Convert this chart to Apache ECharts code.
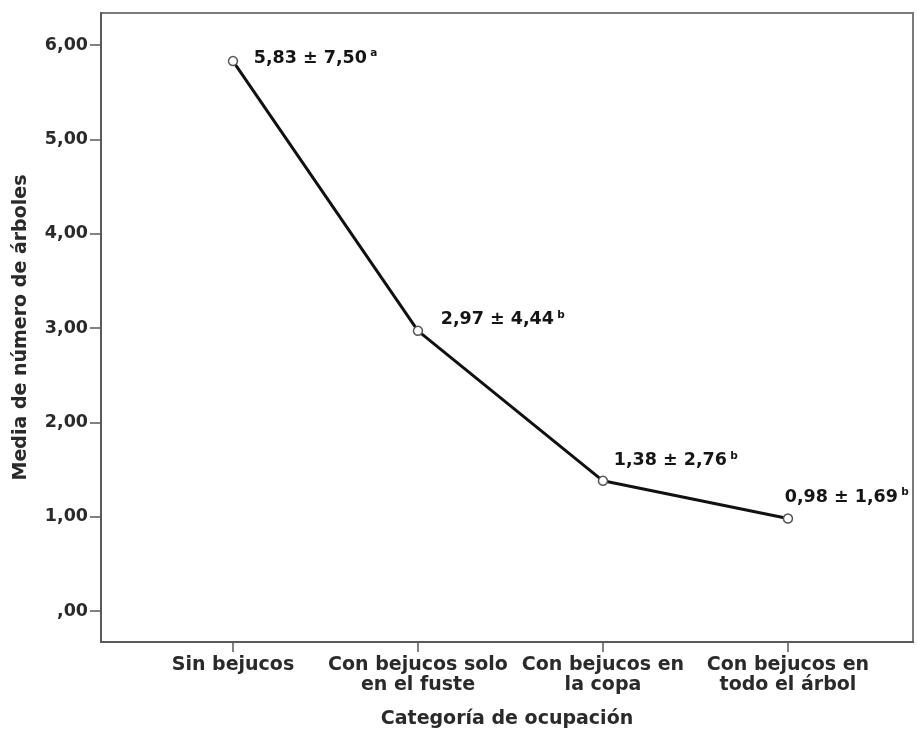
<!DOCTYPE html>
<html>
<head>
<meta charset="utf-8">
<title>Media de número de árboles por categoría de ocupación</title>
<script src="https://cdn.jsdelivr.net/npm/echarts@6/dist/echarts.min.js"></script>
<style>
  html, body { margin: 0; padding: 0; background: #ffffff; }
  #chart { width: 917px; height: 737px; }
</style>
</head>
<body>
<div id="chart"></div>
<script>
// Occupation categories (x axis) and their mean ± SD tree counts
const categories = [
  'Sin bejucos',
  'Con bejucos solo\nen el fuste',
  'Con bejucos en\nla copa',
  'Con bejucos en\ntodo el árbol'
];
const means = [5.83, 2.97, 1.38, 0.98];
const sds = [7.50, 4.44, 2.76, 1.69];
const groups = ['a', 'b', 'b', 'b'];
const yTicks = [0, 1, 2, 3, 4, 5, 6];
const xTicks = [0, 1, 2, 3];

// label placement next to each point (pixels)
const labelOffsets = [[0, -3], [0, -11], [0, -20], [-8.5, -21]];
const labelDistances = [15.5, 17.5, 5.5, 0];

const fmt = v => v.toFixed(2).replace('.', ',');
const tickFmt = v => (v === 0 ? ',00' : v.toFixed(2).replace('.', ','));

const axisFont = 'DejaVu Sans';
const axisColor = '#5a5a5a';

const chart = echarts.init(document.getElementById('chart'), null, { renderer: 'canvas' });

chart.setOption({
  backgroundColor: '#ffffff',
  animation: false,
  grid: {
    left: 101, right: 4, top: 13, bottom: 95,
    show: true,
    borderColor: '#7a7a7a',
    borderWidth: 2,
    backgroundColor: '#ffffff'
  },
  xAxis: {
    type: 'value',
    min: -0.7135,
    max: 3.676,
    name: 'Categoría de ocupación',
    nameLocation: 'middle',
    nameGap: 68,
    nameTextStyle: { fontFamily: axisFont, fontWeight: 'bold', fontSize: 19, color: '#2a2a2a' },
    splitLine: { show: false },
    axisLine: { show: true, onZero: false, lineStyle: { color: axisColor, width: 2 } },
    axisTick: {
      show: true, length: 10, customValues: xTicks,
      lineStyle: { color: axisColor, width: 1.5 }
    },
    axisLabel: {
      customValues: xTicks,
      margin: 13,
      fontFamily: axisFont, fontWeight: 'bold', fontSize: 19, lineHeight: 20,
      color: '#2a2a2a',
      formatter: v => categories[Math.round(v)]
    }
  },
  yAxis: {
    type: 'value',
    min: -0.3286,
    max: 6.34,
    name: 'Media de número de árboles',
    nameLocation: 'middle',
    nameGap: 70,
    nameRotate: 90,
    nameTextStyle: { fontFamily: axisFont, fontWeight: 'bold', fontSize: 19, color: '#2a2a2a' },
    splitLine: { show: false },
    axisLine: { show: true, onZero: false, lineStyle: { color: axisColor, width: 2 } },
    axisTick: {
      show: true, length: 11, customValues: yTicks,
      lineStyle: { color: axisColor, width: 1.5 }
    },
    axisLabel: {
      customValues: yTicks,
      margin: 13,
      fontFamily: axisFont, fontWeight: 'bold', fontSize: 17.5,
      color: '#2a2a2a',
      formatter: tickFmt
    }
  },
  series: [{
    type: 'line',
    data: means.map((m, i) => ({
      value: [i, m],
      label: {
        show: true,
        position: 'right',
        distance: labelDistances[i],
        offset: labelOffsets[i],
        formatter: '{v|' + fmt(m) + ' ± ' + fmt(sds[i]) + '} {s|' + groups[i] + '}',
        rich: {
          v: { fontFamily: axisFont, fontWeight: 'bold', fontSize: 17.5, color: '#151515', lineHeight: 21 },
          s: { fontFamily: axisFont, fontWeight: 'bold', fontSize: 10.5, color: '#151515', verticalAlign: 'top', lineHeight: 12 }
        }
      }
    })),
    lineStyle: { color: '#111111', width: 3 },
    symbol: 'circle',
    symbolSize: 9,
    itemStyle: { color: '#ffffff', borderColor: '#555555', borderWidth: 1.5 },
    z: 3
  }]
});
</script>
</body>
</html>
